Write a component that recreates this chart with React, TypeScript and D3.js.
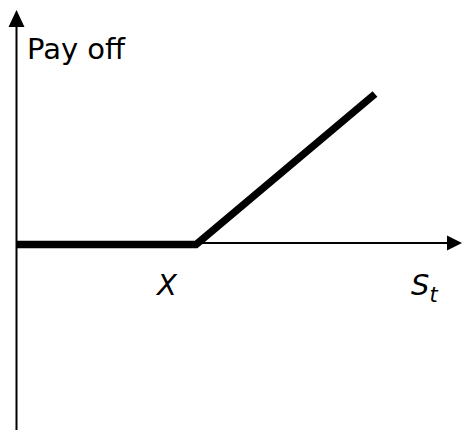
import React from "react";
import * as d3 from "d3";

const prices = [0, 50, 100];
const strike = 50;
const payoffs = prices.map((s) => Math.max(0, s - strike));
const yLabel = "Pay off";
const strikeLabel = "X";
const priceLabel = "S";
const priceSub = "t";

const W = 462;
const H = 430;

export default function App() {
  const x = d3.scaleLinear().domain([0, 100]).range([17, 375]);
  const y = d3.scaleLinear().domain([0, 50]).range([244.5, 94]);
  const axisY = 243;
  const axisX = 16.5;
  const line = d3
    .line<number>()
    .x((_, i) => x(prices[i]))
    .y((d) => y(d));
  const font = "'DejaVu Sans', Verdana, sans-serif";
  return (
    <svg
      width={W}
      height={H}
      style={{ position: "absolute", left: 0, top: 0, background: "#fff" }}
    >
      {/* y axis */}
      <line x1={axisX} x2={axisX} y1={H} y2={26} stroke="#000" strokeWidth={2} />
      <path d={`M${axisX - 8},27 L${axisX},10 L${axisX + 8},27 Z`} fill="#000" />
      {/* x axis */}
      <line x1={axisX} x2={448} y1={axisY} y2={axisY} stroke="#000" strokeWidth={2} />
      <path d={`M447,${axisY - 7.5} L462,${axisY} L447,${axisY + 7.5} Z`} fill="#000" />
      {/* payoff */}
      <path
        d={line(payoffs) || ""}
        fill="none"
        stroke="#000"
        strokeWidth={7.5}
        strokeLinejoin="miter"
        strokeLinecap="butt"
      />
      <text x={27} y={59} fontFamily={font} fontSize={29} fill="#000">
        {yLabel}
      </text>
      <text x={x(strike) - 39} y={295} fontFamily={font} fontSize={29} fontStyle="italic" fill="#000">
        {strikeLabel}
      </text>
      <text x={411} y={295} fontFamily={font} fontSize={29} fontStyle="italic" fill="#000">
        {priceLabel}
        <tspan fontSize={21} dy={7}>
          {priceSub}
        </tspan>
      </text>
    </svg>
  );
}
